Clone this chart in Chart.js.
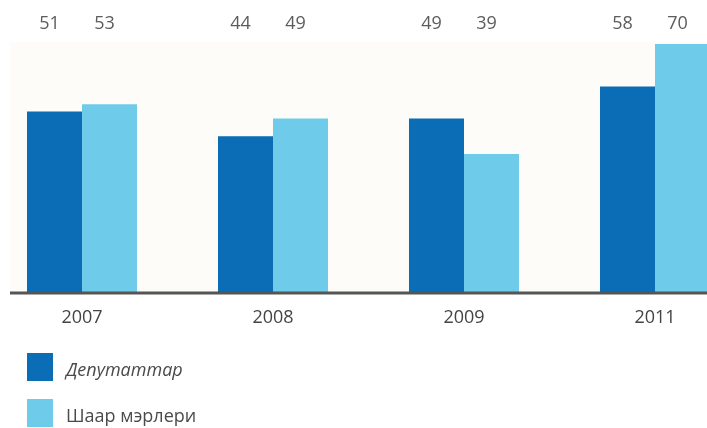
<!DOCTYPE html>
<html>
<head>
<meta charset="utf-8">
<script src="https://cdn.jsdelivr.net/npm/chart.js@4/dist/chart.umd.min.js"></script>
<style>
  html, body { margin: 0; padding: 0; background: #ffffff; }
  body { width: 707px; height: 428px; position: relative; overflow: hidden; font-family: "Open Sans", "Noto Sans", sans-serif; }
  #wrap { position: absolute; left: 0; top: 0; width: 707px; height: 356px; }
  .legend { position: absolute; left: 27px; font-size: 18px; color: #4a4a4a; }
  .legend .sw { position: absolute; left: 0; width: 26px; height: 28px; }
  .legend span.t { position: absolute; left: 39px; white-space: nowrap; line-height: 28px; top: 2px; }
</style>
</head>
<body>
<div id="wrap"><canvas id="c"></canvas></div>
<div class="legend" style="top:353px;"><div class="sw" style="background:#0a6db5"></div><span class="t" style="font-style:italic">Депутаттар</span></div>
<div class="legend" style="top:399px;"><div class="sw" style="background:#6fcbea"></div><span class="t">Шаар мэрлери</span></div>
<script>
const years = ['2007', '2008', '2009', '2011'];
const deputies = [51, 44, 49, 58];
const mayors = [53, 49, 39, 70];
const seriesNames = ['Депутаттар', 'Шаар мэрлери'];

const darkBlue = '#0a6db5';
const lightBlue = '#6fcbea';

// faint panel behind the bars and the dark baseline across the plot
const panelAndBaseline = {
  id: 'panelAndBaseline',
  beforeDatasetsDraw(chart) {
    const ctx = chart.ctx;
    const y0 = chart.scales.y.getPixelForValue(0);
    ctx.save();
    ctx.fillStyle = '#fdfcf9';
    ctx.fillRect(10, 42, chart.width - 10, y0 - 42);
    ctx.restore();
  },
  afterDatasetsDraw(chart) {
    const ctx = chart.ctx;
    const y0 = chart.scales.y.getPixelForValue(0);
    ctx.save();
    ctx.strokeStyle = '#555555';
    ctx.lineWidth = 3;
    ctx.beginPath();
    ctx.moveTo(10, y0 + 0.5);
    ctx.lineTo(chart.width, y0 + 0.5);
    ctx.stroke();
    ctx.restore();
  }
};

// value of each bar written in a row along the top
const topValues = {
  id: 'topValues',
  afterDraw(chart) {
    const ctx = chart.ctx;
    ctx.save();
    ctx.font = '18px "Open Sans", "Noto Sans", sans-serif';
    ctx.fillStyle = '#5c5c5c';
    ctx.textAlign = 'center';
    ctx.textBaseline = 'middle';
    chart.data.datasets.forEach((ds, di) => {
      chart.getDatasetMeta(di).data.forEach((bar, i) => {
        ctx.fillText(String(ds.data[i]), bar.x - 5, 24);
      });
    });
    ctx.restore();
  }
};

new Chart(document.getElementById('c'), {
  type: 'bar',
  data: {
    labels: years,
    datasets: [
      { label: seriesNames[0], data: deputies, backgroundColor: darkBlue, clip: false },
      { label: seriesNames[1], data: mayors, backgroundColor: lightBlue, clip: false }
    ]
  },
  options: {
    responsive: true,
    maintainAspectRatio: false,
    animation: false,
    layout: { padding: { left: 82, right: 52, top: 44, bottom: 12 } },
    categoryPercentage: 0.576,
    barPercentage: 1.0,
    plugins: { legend: { display: false }, tooltip: { enabled: false } },
    scales: {
      x: {
        offset: false,
        grid: { display: false, drawTicks: false },
        border: { display: false },
        ticks: {
          color: '#444444',
          font: { family: '"Open Sans", "Noto Sans", sans-serif', size: 18 },
          padding: 15
        }
      },
      y: {
        display: false,
        min: 0,
        max: 70
      }
    }
  },
  plugins: [panelAndBaseline, topValues]
});
</script>
</body>
</html>
